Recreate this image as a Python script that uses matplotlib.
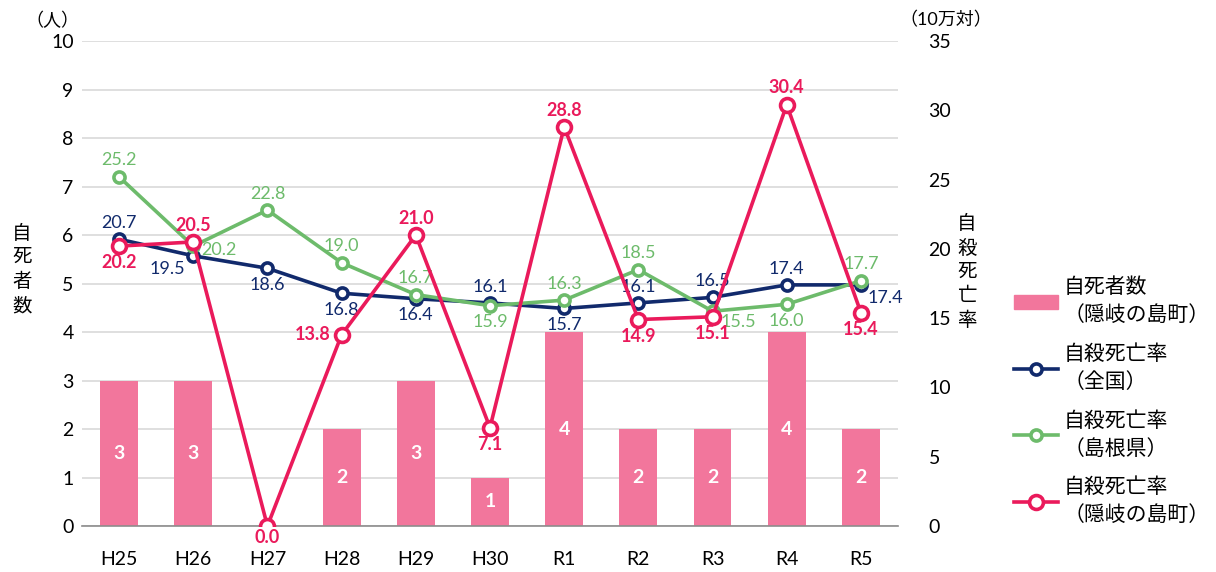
import numpy as np
import matplotlib
matplotlib.use('Agg')
import matplotlib.pyplot as plt
from matplotlib.lines import Line2D
from matplotlib.patches import Patch

plt.rcParams['font.family'] = ['Lato', 'Noto Sans CJK JP', 'DejaVu Sans']

years = ['H25', 'H26', 'H27', 'H28', 'H29', 'H30', 'R1', 'R2', 'R3', 'R4', 'R5']
deaths_oki = [3, 3, 0, 2, 3, 1, 4, 2, 2, 4, 2]
rate_national = [20.7, 19.5, 18.6, 16.8, 16.4, 16.1, 15.7, 16.1, 16.5, 17.4, 17.4]
rate_shimane = [25.2, 20.2, 22.8, 19.0, 16.7, 15.9, 16.3, 18.5, 15.5, 16.0, 17.7]
rate_oki = [20.2, 20.5, 0.0, 13.8, 21.0, 7.1, 28.8, 14.9, 15.1, 30.4, 15.4]

# where each value label sits relative to its marker
pos_national = ['a', 'bl', 'b', 'b', 'b', 'a', 'b', 'a', 'a', 'a', 'rd']
pos_shimane = ['a', 'r', 'a', 'a', 'a', 'b', 'a', 'a', 'br', 'b', 'a']
pos_oki = ['b', 'a', 'b0', 'l', 'a', 'b', 'a', 'b', 'b', 'a', 'b']

c_bar = '#F2769C'
c_nat = '#112A6C'
c_shi = '#6DBB6B'
c_oki = '#EA1A5B'

offsets = {'a': (0, 6, 'center', 'bottom'), 'b': (0, -6, 'center', 'top'),
           'b0': (0, -2, 'center', 'top'),
           'r': (6, -3, 'left', 'center'), 'rd': (5, -4, 'left', 'top'),
           'l': (-8, 0, 'right', 'center'),
           'bl': (-6, -4, 'right', 'top'), 'br': (6, -2, 'left', 'top')}

fig = plt.figure(figsize=(12.16, 5.72), dpi=100)
ax = fig.add_axes([0.0674, 0.0804, 0.6711, 0.8479])
ax2 = ax.twinx()

x = np.arange(len(years))
ax.bar(x, deaths_oki, width=0.51, color=c_bar, zorder=2)
for xi, v in zip(x, deaths_oki):
    if v > 0:
        ax.text(xi, v / 2, str(v), ha='center', va='center', color='white',
                fontsize=14, fontweight='bold', zorder=3)

ax.set_ylim(0, 10)
ax.set_yticks(range(0, 11))
ax.set_xlim(-0.5, len(years) - 0.5)
ax.set_xticks(x)
ax.set_xticklabels(years)
ax.grid(axis='y', color='#D9D9D9', linewidth=1.2, zorder=0)
ax.set_axisbelow(True)
for s in ['top', 'right', 'left']:
    ax.spines[s].set_visible(False)
ax.spines['bottom'].set_color('#8C8C8C')
ax.spines['bottom'].set_linewidth(1.2)
ax.tick_params(length=0, labelsize=14, pad=6)
ax.tick_params(axis='x', pad=18)

ax2.set_ylim(0, 35)
ax2.set_yticks(range(0, 36, 5))
for s in ['top', 'right', 'left', 'bottom']:
    ax2.spines[s].set_visible(False)
ax2.tick_params(length=0, labelsize=14, pad=22)

def draw(vals, col, pos, ms, bold, z):
    ax2.plot(x, vals, color=col, lw=2.6, marker='o', ms=ms, mfc='white',
             mec=col, mew=2.6, zorder=z)
    for xi, v, p in zip(x, vals, pos):
        dx, dy, ha, va = offsets[p]
        ax2.annotate(f'{v:.1f}', (xi, v), xytext=(dx, dy), textcoords='offset points',
                     ha=ha, va=va, color=col, fontsize=13,
                     fontweight='bold' if bold else 'normal', zorder=z + 1)

draw(rate_national, c_nat, pos_national, 8, False, 4)
draw(rate_shimane, c_shi, pos_shimane, 8, False, 5)
draw(rate_oki, c_oki, pos_oki, 10, True, 6)

fig.text(0.043, 0.965, '（人）', fontsize=13, ha='center', va='center')
fig.text(0.778, 0.965, '（10万対）', fontsize=13, ha='center', va='center')
fig.text(0.018, 0.53, '自\n死\n者\n数', fontsize=14, ha='center', va='center',
         linespacing=1.45)
fig.text(0.795, 0.525, '自\n殺\n死\n亡\n率', fontsize=14, ha='center', va='center',
         linespacing=1.45)

handles = [Patch(color=c_bar),
           Line2D([], [], color=c_nat, lw=2.6, marker='o', ms=8, mfc='white', mew=2.6),
           Line2D([], [], color=c_shi, lw=2.6, marker='o', ms=8, mfc='white', mew=2.6),
           Line2D([], [], color=c_oki, lw=2.6, marker='o', ms=10, mfc='white', mew=2.6)]
labels = ['自死者数\n（隠岐の島町）', '自殺死亡率\n（全国）',
          '自殺死亡率\n（島根県）', '自殺死亡率\n（隠岐の島町）']
leg = fig.legend(handles, labels, loc='upper left', bbox_to_anchor=(0.827, 0.53),
                 frameon=False, fontsize=15, handlelength=2.1, handletextpad=0.3,
                 labelspacing=0.9, borderaxespad=0)
for t in leg.get_texts():
    t.set_linespacing(1.5)

fig.savefig('out.png', dpi=100)
